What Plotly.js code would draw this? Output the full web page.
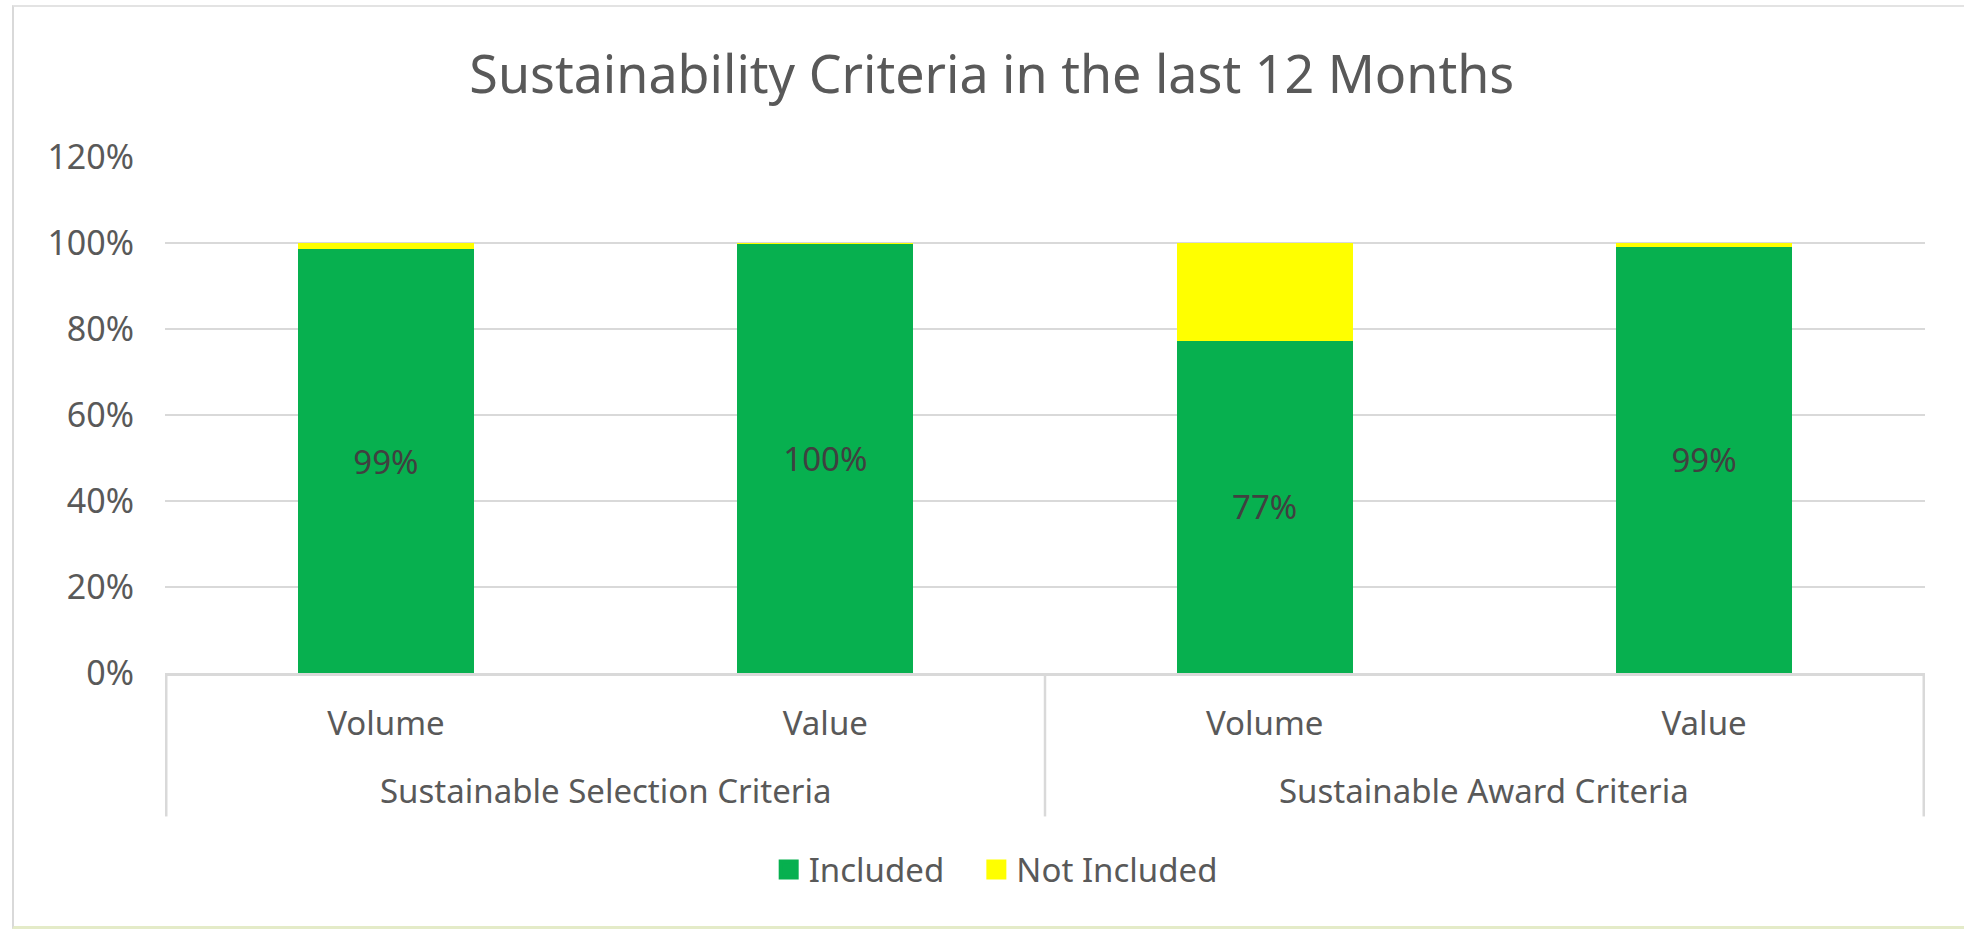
<!DOCTYPE html>
<html>
<head>
<meta charset="utf-8">
<script src="https://cdn.plot.ly/plotly-3.0.1.min.js"></script>
<style>
  html, body { margin: 0; padding: 0; background: #ffffff; overflow: hidden; }
  #chart { width: 1964px; height: 931px; }
  #frame { position: absolute; left: 12px; top: 5px; width: 2000px; height: 924px;
           border-left: 2px solid #d9d9d9; border-top: 2px solid #e3e3e3; border-bottom: 3px solid #e4ebc8;
           pointer-events: none; box-sizing: border-box; }
</style>
</head>
<body>
<div id="chart"></div>
<div id="frame"></div>
<script>
const groups = ["Sustainable Selection Criteria", "Sustainable Selection Criteria", "Sustainable Award Criteria", "Sustainable Award Criteria"];
const measures = ["Volume", "Value", "Volume", "Value"];
const included = [98.6, 99.8, 77.3, 99.1];
const notIncluded = [1.4, 0.2, 22.7, 0.9];
const seriesNames = ["Included", "Not Included"];
const seriesColors = ["#07B04F", "#FFFF00"];
const yTicks = [0, 20, 40, 60, 80, 100, 120];
const yTickLabels = ["0%", "20%", "40%", "60%", "80%", "100%", "120%"];

const FONT = "Noto Sans, Open Sans, sans-serif";
const GREY = "#595959";
const LINE = "#d9d9d9";

// unique category keys (group + measure) so repeated measure names stay distinct
const keys = groups.map((g, i) => g + " | " + measures[i]);

const traces = [
  {
    type: "bar",
    name: seriesNames[0],
    x: keys,
    y: included,
    marker: { color: seriesColors[0] },
    texttemplate: "%{y:.0f}%",
    textposition: "inside",
    insidetextanchor: "middle",
    textfont: { family: FONT, size: 33, color: "#404040" },
    showlegend: false,
    hoverinfo: "skip"
  },
  {
    type: "bar",
    name: seriesNames[1],
    x: keys,
    y: notIncluded,
    marker: { color: seriesColors[1] },
    textposition: "none",
    showlegend: false,
    hoverinfo: "skip"
  }
];

// legend-only entries (bigger square swatches), one legend box per entry
const legendIds = ["legend", "legend2"];
seriesNames.forEach((n, i) => {
  traces.push({
    type: "scatter", mode: "markers", name: n, legend: legendIds[i],
    x: [keys[0]], y: [null],
    marker: { symbol: "square", size: 16, color: seriesColors[i], line: { color: seriesColors[i], width: 4 } },
    hoverinfo: "skip"
  });
});

// group labels and dividers for the two-level category axis
const groupNames = [...new Set(groups)];
const annotations = groupNames.map(g => {
  const idx = groups.map((v, i) => v === g ? i : -1).filter(i => i >= 0);
  const mid = idx.reduce((a, b) => a + b, 0) / idx.length;
  return {
    text: g, xref: "x", yref: "paper", x: mid, y: 0, yshift: -117,
    xanchor: "center", yanchor: "middle", showarrow: false,
    font: { family: FONT, size: 33, color: GREY }
  };
});
const boundaries = [-0.5];
groups.forEach((g, i) => { if (i === groups.length - 1 || groups[i + 1] !== g) boundaries.push(i + 0.5); });
const shapes = boundaries.map(b => ({
  type: "line", xref: "x", yref: "paper", x0: b, x1: b, y0: 0, y1: -0.278,
  line: { color: LINE, width: 2.5 }
}));

const legendStyle = (x) => ({
  orientation: "h",
  x: x, xanchor: "left",
  y: -0.381, yanchor: "middle",
  font: { family: FONT, size: 33, color: GREY },
  itemwidth: 30,
  bgcolor: "rgba(0,0,0,0)"
});

const layout = {
  width: 1964,
  height: 931,
  barmode: "stack",
  bargap: 0.6,
  paper_bgcolor: "#ffffff",
  plot_bgcolor: "#ffffff",
  margin: { l: 165, r: 39, t: 157, b: 258 },
  font: { family: FONT, color: GREY },
  title: {
    text: "Sustainability Criteria in the last 12 Months",
    font: { family: FONT, size: 52, color: GREY },
    x: 0.505, xanchor: "center",
    y: 0.92, yanchor: "middle"
  },
  xaxis: {
    type: "category",
    tickvals: keys,
    ticktext: measures,
    tickfont: { family: FONT, size: 33, color: GREY },
    showline: true,
    linecolor: LINE,
    linewidth: 3,
    showgrid: false,
    ticks: "",
    ticklabelstandoff: 19
  },
  yaxis: {
    range: [0, 120],
    tickvals: yTicks,
    ticktext: yTickLabels,
    tickfont: { family: FONT, size: 34, color: GREY },
    showgrid: true,
    gridcolor: LINE,
    gridwidth: 2.5,
    zeroline: false,
    showline: false,
    ticks: "",
    ticklabelstandoff: 30
  },
  legend: legendStyle(0.343),
  legend2: legendStyle(0.461),
  annotations: annotations,
  shapes: shapes,
  showlegend: true
};

Plotly.newPlot("chart", traces, layout, { displayModeBar: false, staticPlot: true });
</script>
</body>
</html>
